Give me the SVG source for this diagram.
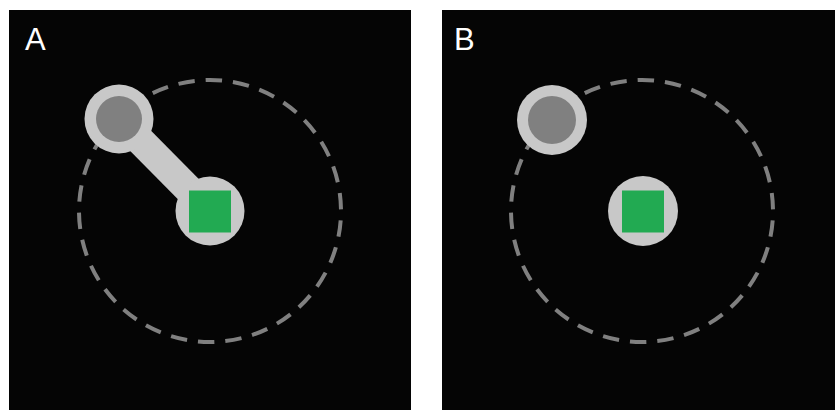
<svg xmlns="http://www.w3.org/2000/svg" width="835" height="410" viewBox="0 0 835 410">
<style>
.panel{fill:#050505}
.orbit{fill:none;stroke:#808080;stroke-width:4;stroke-dasharray:0.6 0.4;stroke-dashoffset:0.66}
.ring{fill:#c8c8c8}
.core{fill:#808080}
.sq{fill:#22aa52}
.lbl{fill:#ffffff;font-family:"Liberation Sans",Arial,sans-serif;font-size:31px}
.band{stroke:#c8c8c8;stroke-width:29;stroke-linecap:butt}
</style>
<rect width="835" height="410" fill="#ffffff"/>
<g id="panelA">
<rect class="panel" x="9" y="10" width="402" height="400"/>
<text class="lbl" x="25" y="50">A</text>
<circle class="orbit" cx="210" cy="211" r="131" pathLength="30"/>
<g id="connectors">
<line class="band" x1="119" y1="119" x2="210" y2="211"/>
</g>
<g id="A-satellite">
<circle class="ring" cx="119" cy="119" r="34.5"/>
<circle class="core" cx="119" cy="119" r="23"/>
</g>
<g id="A-center">
<circle class="ring" cx="210" cy="211" r="34.5"/>
<rect class="sq" x="189" y="190.5" width="42" height="42"/>
</g>
</g>
<g id="panelB">
<rect class="panel" x="442" y="10" width="393" height="400"/>
<text class="lbl" x="454" y="50">B</text>
<circle class="orbit" cx="642" cy="211" r="131" pathLength="30"/>
<g id="B-satellite">
<circle class="ring" cx="552" cy="120" r="35"/>
<circle class="core" cx="552" cy="120" r="24"/>
</g>
<g id="B-center">
<circle class="ring" cx="643" cy="211" r="35"/>
<rect class="sq" x="622" y="190.5" width="42" height="42"/>
</g>
</g>
</svg>
